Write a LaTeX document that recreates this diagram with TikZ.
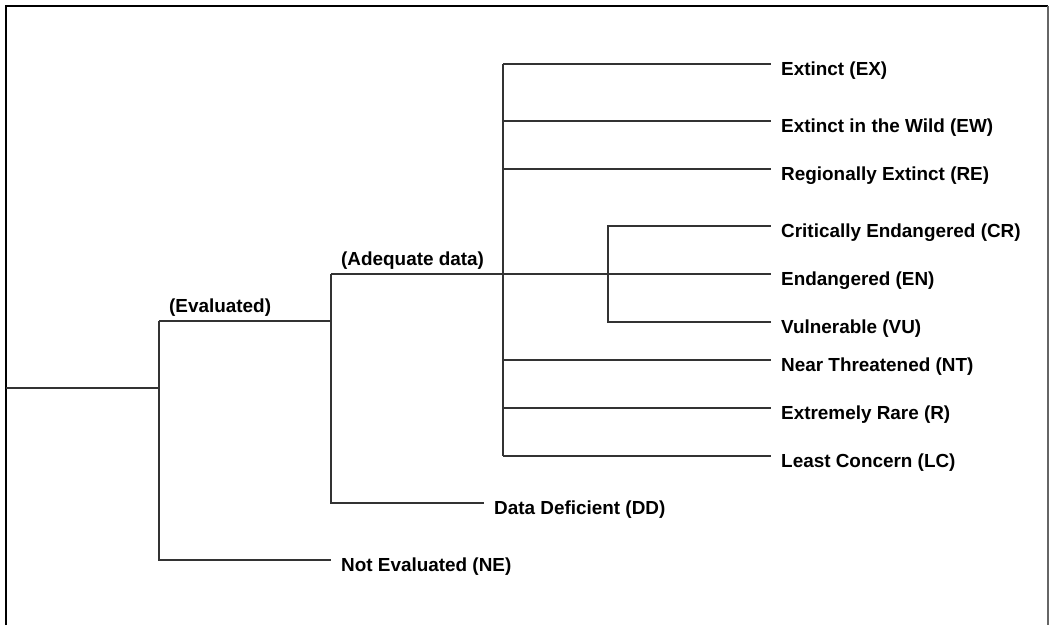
\documentclass[tikz,border=0pt]{standalone}
\usepackage{fontspec}
\setmainfont{Liberation Sans}
\tikzset{
  cat/.style={anchor=west, inner xsep=10pt, inner ysep=0pt, text height=27pt, text depth=4pt, font=\fontsize{18.9}{22}\selectfont\bfseries},
  grp/.style={anchor=south west, inner xsep=10pt, inner ysep=4pt, font=\fontsize{18.9}{22}\selectfont\bfseries},
  branch/.style={line width=1.4pt, black!80}
}
\begin{document}
\begin{tikzpicture}[x=1pt, y=-1pt]
      \useasboundingbox (0,0) rectangle (1051,625);
      % frame
      \draw[line width=1.6pt] (6,625) -- (6,6) -- (1048,6);
      \draw[line width=2pt, black!60] (1048,6) -- (1048,625);
      % labels
      \node[cat] (ex) at (771,64) {Extinct (EX)};
      \node[cat] (ew) at (771,121) {Extinct in the Wild (EW)};
      \node[cat] (re) at (771,169) {Regionally Extinct (RE)};
      \node[cat] (cr) at (771,226) {Critically Endangered (CR)};
      \node[cat] (en) at (771,274) {Endangered (EN)};
      \node[cat] (vu) at (771,322) {Vulnerable (VU)};
      \node[cat] (nt) at (771,360) {Near Threatened (NT)};
      \node[cat] (rare) at (771,408) {Extremely Rare (R)};
      \node[cat] (lc) at (771,456) {Least Concern (LC)};
      \node[cat] (dd) at (484,503) {Data Deficient (DD)};
      \node[cat] (ne) at (331,560) {Not Evaluated (NE)};
      \node[grp] (eval) at (159,321) {(Evaluated)};
      \node[grp] (adeq) at (331,274) {(Adequate data)};
      \coordinate (root) at (6,388);
      \coordinate (trunk) at (503,0);
      \coordinate (sub) at (608,0);
      % tree
      \draw[branch] (root) -- (root -| eval.south west)
                    (eval.south west) |- (ne.west)
                    (eval.south west) -| (adeq.south west)
                    (adeq.south west) |- (dd.west)
                    (adeq.south west) -- (en.west);
      \draw[branch] (trunk |- ex) -- (trunk |- lc)
                    (trunk |- ex) -- (ex.west)
                    (trunk |- ew) -- (ew.west)
                    (trunk |- re) -- (re.west)
                    (trunk |- nt) -- (nt.west)
                    (trunk |- rare) -- (rare.west)
                    (trunk |- lc) -- (lc.west);
      \draw[branch] (vu.west) -| (sub |- cr) -- (cr.west);
\end{tikzpicture}
\end{document}
